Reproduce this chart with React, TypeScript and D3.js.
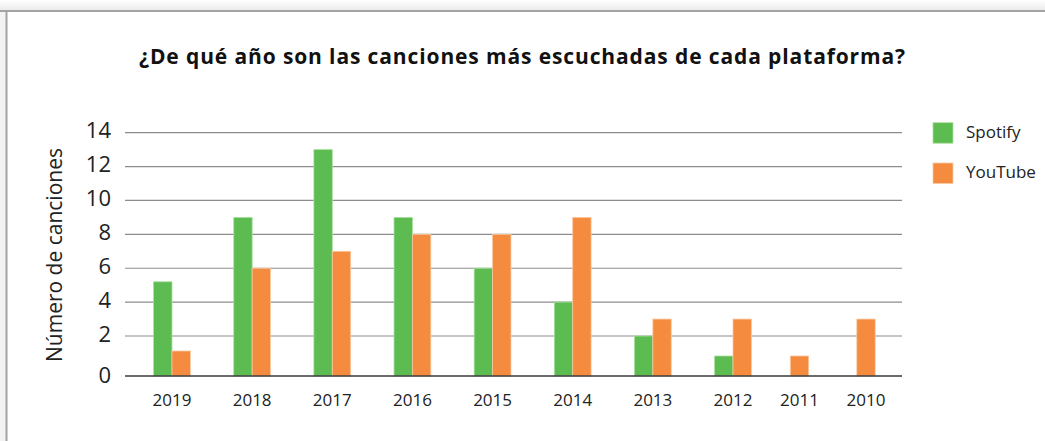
import React from "react";
import * as d3 from "d3";

const years = ["2019", "2018", "2017", "2016", "2015", "2014", "2013", "2012", "2011", "2010"];
const spotify = [5.2, 9, 13, 9, 6, 4, 2, 1, 0, 0];
const youtube = [1.25, 6, 7, 8, 8, 9, 3, 3, 1, 3];
const yTicks = [0, 2, 4, 6, 8, 10, 12, 14];
const seriesNames = ["Spotify", "YouTube"];
const colors = ["#5cbb51", "#f48b3f"];
const strokes = ["#a9e09c", "#fbc9a2"];

const W = 1045;
const H = 441;
const FONT = "'Open Sans', 'Noto Sans', sans-serif";

export default function App() {
  // index -> group center (last two categories are compressed in the original)
  const x = d3.scaleLinear().domain([0, 7, 9]).range([172, 733, 866]);
  const y = d3.scaleLinear().domain([0, 2, 14]).range([376, 336, 132.7]);
  const bw = 18.4;
  const gridX0 = 125;
  const gridX1 = 902;

  const bars: JSX.Element[] = [];
  years.forEach((yr, i) => {
    const vals = [spotify[i], youtube[i]];
    const present = vals.map((v) => v > 0);
    const both = present[0] && present[1];
    vals.forEach((v, s) => {
      if (!(v > 0)) return;
      const cx = x(i);
      const left = both ? (s === 0 ? cx - bw : cx) : cx - bw / 2;
      bars.push(
        <rect
          key={yr + s}
          x={left}
          y={y(v)}
          width={bw}
          height={y(0) - y(v)}
          fill={colors[s]}
          stroke={strokes[s]}
          strokeWidth={0.8}
        />
      );
    });
  });

  return (
    <svg
      width={W}
      height={H}
      style={{ position: "absolute", left: 0, top: 0, background: "#fff" }}
      fontFamily={FONT}
    >
      <defs>
        <linearGradient id="topShade" x1="0" y1="0" x2="0" y2="1">
          <stop offset="0" stopColor="#ffffff" />
          <stop offset="1" stopColor="#ececec" />
        </linearGradient>
      </defs>
      <rect x={0} y={0} width={W} height={10} fill="url(#topShade)" />
      <rect x={0} y={10} width={6} height={H - 10} fill="#f3f3f3" />
      <line x1={0} x2={W} y1={11} y2={11} stroke="#a3a3a3" strokeWidth={2} />
      <line x1={6.5} x2={6.5} y1={10} y2={H} stroke="#a3a3a3" strokeWidth={2} />

      <text
        x={522.5}
        y={64}
        textAnchor="middle"
        fontSize={21}
        fontWeight={700}
        letterSpacing={0.88}
        fill="#111"
      >
        ¿De qué año son las canciones más escuchadas de cada plataforma?
      </text>

      {yTicks.filter((t) => t > 0).map((t) => (
        <line
          key={"g" + t}
          x1={gridX0}
          x2={gridX1}
          y1={y(t)}
          y2={y(t)}
          stroke="#8c8c8c"
          strokeWidth={1.2}
        />
      ))}

      {bars}

      <line x1={gridX0} x2={gridX1} y1={y(0)} y2={y(0)} stroke="#3a3a3a" strokeWidth={1.6} />

      {yTicks.map((t) => (
        <text
          key={"t" + t}
          x={111}
          y={y(t) + (t === 0 ? 7 : 5.5)}
          textAnchor="end"
          fontSize={22}
          fill="#222"
        >
          {t}
        </text>
      ))}

      {years.map((yr, i) => (
        <text key={"x" + yr} x={x(i)} y={405.5} textAnchor="middle" fontSize={17} fill="#222">
          {yr}
        </text>
      ))}

      <text
        transform="translate(62,255) rotate(-90)"
        textAnchor="middle"
        fontSize={21}
        fill="#222"
      >
        Número de canciones
      </text>

      {seriesNames.map((name, s) => (
        <g key={name}>
          <rect
            x={933}
            y={122.7 + s * 40.3}
            width={20}
            height={20.5}
            fill={colors[s]}
            stroke={strokes[s]}
            strokeWidth={0.8}
          />
          <text x={966} y={137.7 + s * 40} fontSize={17} fill="#222">
            {name}
          </text>
        </g>
      ))}
    </svg>
  );
}
